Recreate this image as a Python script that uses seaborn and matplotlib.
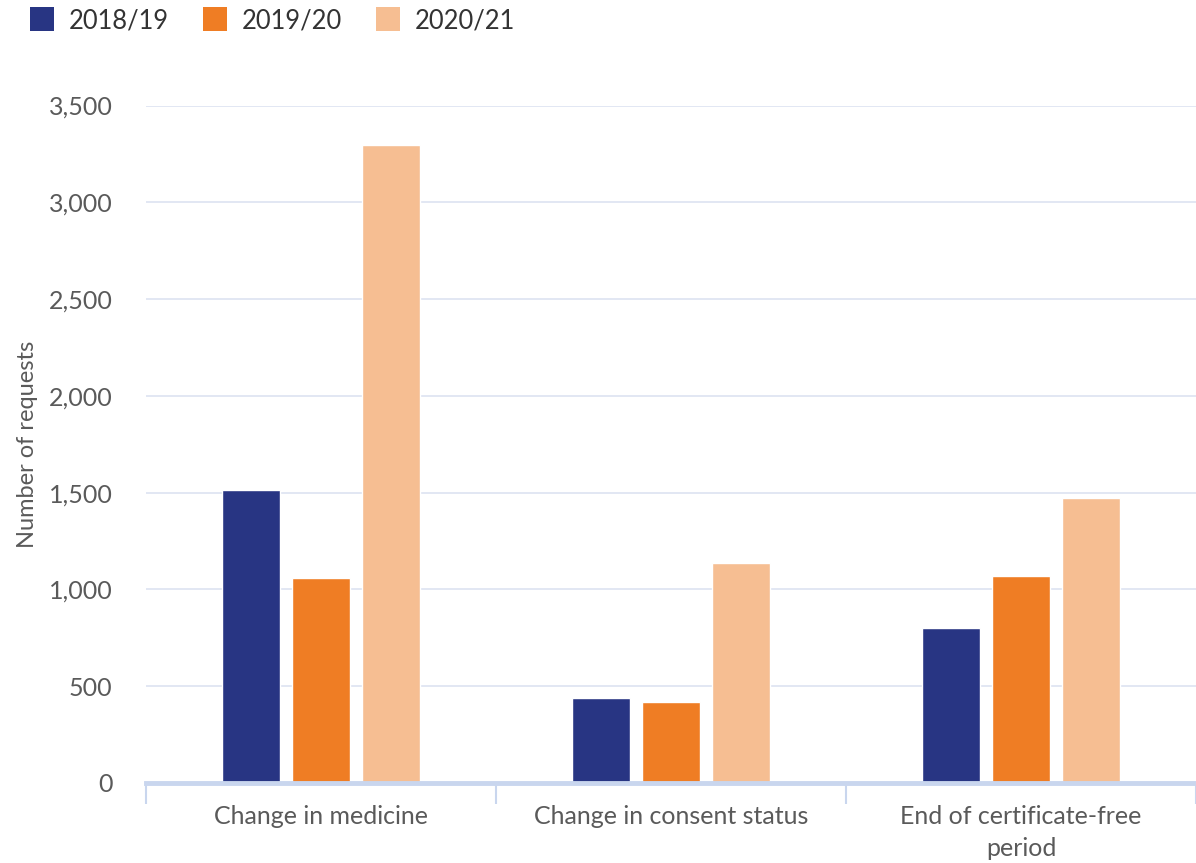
import pandas as pd
import matplotlib.pyplot as plt
import seaborn as sns
from matplotlib.patches import Patch

# values
categories = ['Change in medicine', 'Change in consent status', 'End of certificate-free\nperiod']
years = ['2018/19', '2019/20', '2020/21']
v_2018 = [1515, 437, 799]
v_2019 = [1057, 416, 1072]
v_2020 = [3294, 1136, 1474]
yticks = [0, 500, 1000, 1500, 2000, 2500, 3000, 3500]

colors = ['#283583', '#EF7D24', '#F6BE92']
grey = '#5a5a5a'

rows = []
for yr, vals in zip(years, [v_2018, v_2019, v_2020]):
    for cat, v in zip(categories, vals):
        rows.append({'Category': cat, 'Year': yr, 'Requests': v})
df = pd.DataFrame(rows)

sns.set_style('white')
plt.rcParams['font.family'] = ['Lato', 'DejaVu Sans']

fig = plt.figure(figsize=(11.96, 8.63), dpi=100)
ax = fig.add_axes([0.122, 0.0927, 0.878, 0.785])

sns.barplot(data=df, x='Category', y='Requests', hue='Year', palette=colors,
            width=0.6, gap=0.17, saturation=1, legend=False, ax=ax, zorder=3)

ax.set_ylim(0, 3500)
ax.set_xlim(-0.5, 2.5)
ax.set_yticks(yticks)
ax.set_yticklabels([f'{t:,}' for t in yticks])
ax.grid(axis='y', color='#dde3f1', linewidth=1.2, zorder=0)
ax.set_axisbelow(True)

for s in ['top', 'right', 'left']:
    ax.spines[s].set_visible(False)
ax.spines['bottom'].set_color('#c9d6ee')
ax.spines['bottom'].set_linewidth(3.5)
ax.spines['bottom'].set_zorder(4)

ax.tick_params(axis='y', length=0, labelsize=18, labelcolor=grey, pad=24)
ax.tick_params(axis='x', which='major', length=0, labelsize=18, labelcolor=grey, pad=16)
ax.set_xticks([-0.5, 0.5, 1.5, 2.5], minor=True)
ax.tick_params(axis='x', which='minor', bottom=True, length=15, width=1.5,
               color='#c9d6ee', direction='out')
for lbl in ax.get_xticklabels():
    lbl.set_linespacing(1.45)

ax.set_xlabel('')
ax.set_ylabel('Number of requests', fontsize=17, color=grey, labelpad=8)

handles = [Patch(facecolor=c, edgecolor='none', label=y) for c, y in zip(colors, years)]
fig.legend(handles=handles, loc='upper left', bbox_to_anchor=(0.006, 1.018), ncol=3,
           frameon=False, fontsize=18.4, handlelength=0.95, handleheight=1.05,
           handletextpad=0.55, columnspacing=1.35, labelcolor='#333333')

fig.savefig('out.png', dpi=100)
